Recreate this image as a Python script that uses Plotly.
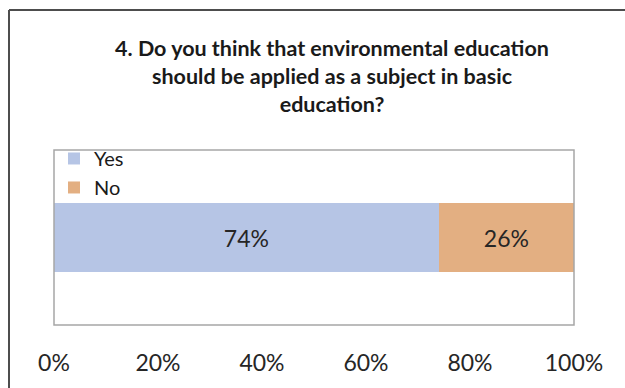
import plotly.graph_objects as go

categories = ["Q4"]
series_names = ["Yes", "No"]
yes_values = [0.74]
no_values = [0.26]
tick_vals = [0, 0.2, 0.4, 0.6, 0.8, 1.0]
tick_text = ["0%", "20%", "40%", "60%", "80%", "100%"]
title_text = ("<b>4. Do you think that environmental education<br>"
              "should be applied as a subject in basic<br>education?</b>")

colors = {"Yes": "#B6C5E5", "No": "#E3AF82"}
FONT = "Lato, Calibri, Open Sans, sans-serif"

fig = go.Figure()
for name, vals in zip(series_names, [yes_values, no_values]):
    fig.add_trace(go.Bar(
        y=categories, x=vals, name=name, orientation="h",
        marker=dict(color=colors[name], line=dict(width=0)),
        text=[f"{v*100:.0f}%" for v in vals],
        textposition="inside", insidetextanchor="middle",
        textfont=dict(family=FONT, size=23, color="#262626"),
        width=0.39,
    ))

L, R, T, B = 54, 51, 150, 63
W, H = 625, 388
pw, ph = W - L - R, H - T - B

fig.update_layout(
    width=W, height=H, barmode="stack",
    margin=dict(l=L, r=R, t=T, b=B),
    paper_bgcolor="white", plot_bgcolor="white",
    title=dict(text=title_text, x=332 / W, xanchor="center", y=1 - 56 / H, yanchor="top",
               font=dict(family=FONT, size=21.5, color="#1a1a1a")),
    showlegend=True,
    legend=dict(x=0.0, y=1.063, xanchor="left", yanchor="top",
                bgcolor="rgba(0,0,0,0)", traceorder="normal",
                font=dict(family=FONT, size=20, color="#1a1a1a"),
                itemwidth=30, tracegroupgap=0),
    xaxis=dict(range=[0, 1], tickvals=tick_vals, ticktext=tick_text,
               showgrid=False, zeroline=False, showline=False, ticks="",
               tickfont=dict(family=FONT, size=23, color="#262626"), ticklabelstandoff=22),
    yaxis=dict(showticklabels=False, showgrid=False, zeroline=False, ticks="",
               range=[-0.5, 0.5]),
)

# plot area border
fig.add_shape(type="rect", xref="paper", yref="paper", x0=0, x1=1, y0=0, y1=1,
              line=dict(color="#A6A6A6", width=1.5), layer="above")
# outer chart frame (left and top edges visible)
fx = (9 - L) / pw
fy = (H - B - 10) / ph
fig.add_shape(type="line", xref="paper", yref="paper",
              x0=fx, x1=fx, y0=-(H + 20 - T - ph) / ph, y1=fy,
              line=dict(color="#4d4d4d", width=2), layer="above")
fig.add_shape(type="line", xref="paper", yref="paper",
              x0=fx, x1=(W + 20 - L) / pw, y0=fy, y1=fy,
              line=dict(color="#4d4d4d", width=2), layer="above")

fig.write_html("out.html")
